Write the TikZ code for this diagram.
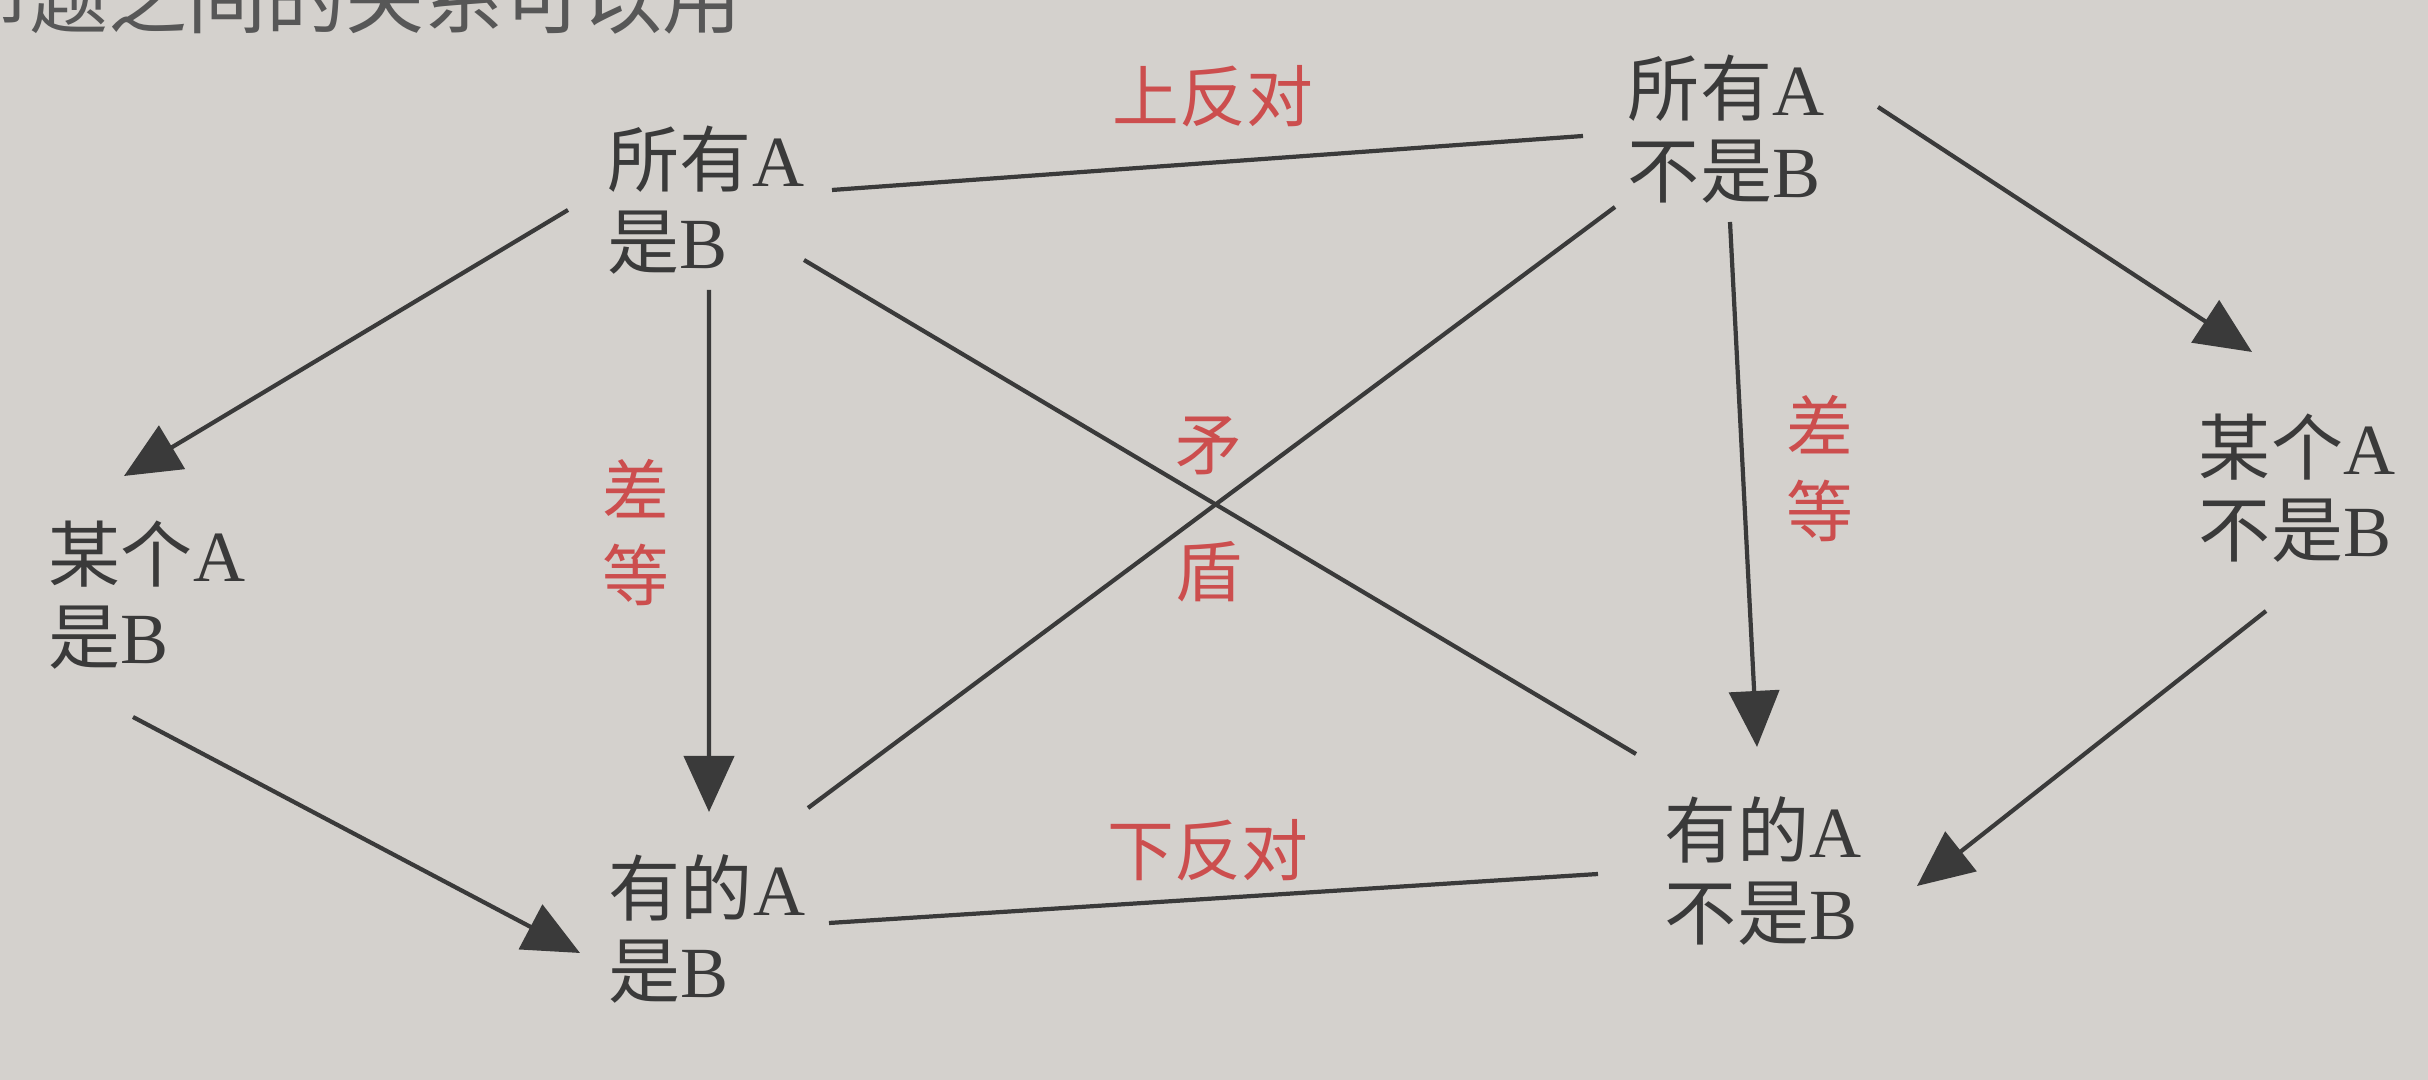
\documentclass[tikz,border=0pt]{standalone}
\usepackage{fontspec}
\setmainfont{Liberation Serif}
\newfontfamily\cjk{Noto Sans CJK SC}
\usepackage{xcolor}
\usetikzlibrary{arrows.meta, positioning, calc}
\definecolor{paper}{RGB}{212,209,205}
\definecolor{ink}{RGB}{58,58,58}
\definecolor{redink}{RGB}{204,78,78}
\newcommand{\zh}[1]{{\cjk #1}}

\begin{document}
\begin{tikzpicture}[
    prop/.style={align=left, text=ink, inner sep=0pt, font=\fontsize{20.5}{23.5}\selectfont},
    rel/.style={align=center, text=redink, inner sep=0pt, font=\cjk\fontsize{19}{24}\selectfont},
    link/.style={draw=ink, line width=1.2pt},
    imply/.style={link, -{Triangle[length=5.6mm, width=5mm]}}]
    \useasboundingbox (0,0) rectangle (24.28,10.80);
    \fill[paper] (0,0) rectangle (24.28,10.80);
    \clip (0,0) rectangle (24.28,10.80);
    \node[anchor=base west, text=ink!85, font=\cjk\fontsize{22.5}{26}\selectfont] (head) at (-0.62,10.52) {命题之间的关系可以用};

    \node[prop] (sa) at (7.06,8.80) {\zh{所有}A\\\zh{是}B};
    \node[prop] (sb) at (17.26,9.51) {\zh{所有}A\\\zh{不是}B};
    \node[prop] (pa) at (1.47,4.85) {\zh{某个}A\\\zh{是}B};
    \node[prop] (pb) at (22.97,5.92) {\zh{某个}A\\\zh{不是}B};
    \node[prop] (ia) at (7.07,1.51) {\zh{有的}A\\\zh{是}B};
    \node[prop] (ib) at (17.63,2.09) {\zh{有的}A\\\zh{不是}B};

    \node[rel] (up) at (12.13,9.84) {上反对};
    \node[rel] (down) at (12.08,2.30) {下反对};
    \node[rel] (mao) at (12.09,6.34) {矛};
    \node[rel] (dun) at (12.09,5.08) {盾};
    \node[rel] (dl) at (6.36,5.475) {差\\等};
    \node[rel] (dr) at (18.20,6.115) {差\\等};

    \draw[link] ($(sa)+(1.26,0.10)$) -- ($(sb)+(-1.43,-0.07)$);
    \draw[link] ($(ia)+(1.22,0.06)$) -- ($(ib)+(-1.65,-0.03)$);
    \draw[link] ($(sa)+(0.98,-0.60)$) -- ($(ib)+(-1.27,1.17)$);
    \draw[link] ($(sb)+(-1.11,-0.78)$) -- ($(ia)+(1.01,1.21)$);
    \draw[imply] ($(sa)+(0.03,-0.90)$) -- ($(ia)+(0.02,1.17)$);
    \draw[imply] ($(sb)+(0.04,-0.93)$) -- ($(ib)+(-0.06,1.24)$);
    \draw[imply] ($(sa)+(-1.38,-0.10)$) -- ($(pa)+(-0.23,1.19)$);
    \draw[imply] ($(sb)+(1.52,0.22)$) -- ($(pb)+(-0.45,1.36)$);
    \draw[imply] ($(pa)+(-0.14,-1.22)$) -- ($(ia)+(-1.27,-0.24)$);
    \draw[imply] ($(pb)+(-0.31,-1.23)$) -- ($(ib)+(1.54,-0.15)$);
\end{tikzpicture}
\end{document}
